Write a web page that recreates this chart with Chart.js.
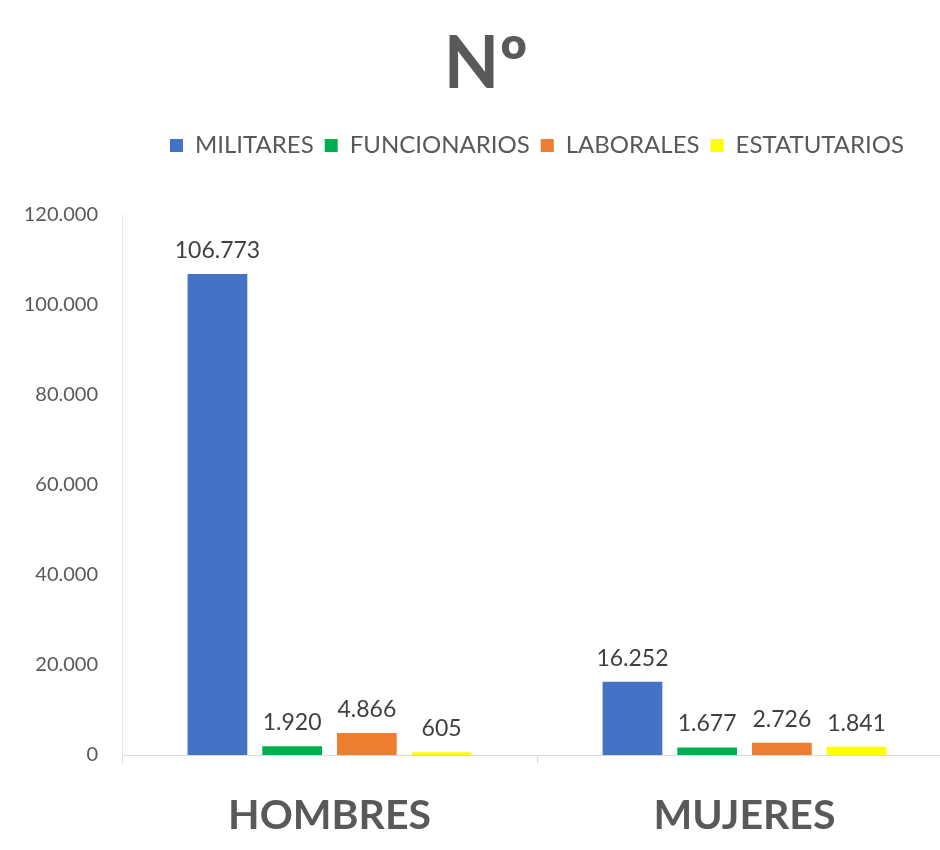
<!DOCTYPE html>
<html>
<head>
<meta charset="utf-8">
<script src="https://cdn.jsdelivr.net/npm/chart.js@4"></script>
<style>
  html, body { margin: 0; padding: 0; background: #fff; }
  /* the source picture is cropped on the right, so the canvas runs a bit past the window */
  #wrap { width: 940px; height: 850px; overflow: hidden; position: relative; }
  #inner { width: 952px; height: 850px; }
</style>
</head>
<body>
<div id="wrap"><div id="inner"><canvas id="chart"></canvas></div></div>
<script>
// categories and series
const categories = ["HOMBRES", "MUJERES"];
const militares = [106773, 16252];
const funcionarios = [1920, 1677];
const laborales = [4866, 2726];
const estatutarios = [605, 1841];
const yTicks = [0, 20000, 40000, 60000, 80000, 100000, 120000];

// 1920 -> "1.920"
function fmt(n) {
  return String(n).replace(/\B(?=(\d{3})+(?!\d))/g, ".");
}

// draws the value above every bar
const barLabels = {
  id: "barLabels",
  afterDatasetsDraw(chart) {
    const ctx = chart.ctx;
    ctx.save();
    ctx.font = "23px Lato";
    ctx.fillStyle = "#404040";
    ctx.textAlign = "center";
    ctx.textBaseline = "bottom";
    chart.data.datasets.forEach((ds, i) => {
      chart.getDatasetMeta(i).data.forEach((bar, j) => {
        ctx.fillText(fmt(ds.data[j]), bar.x, bar.y - 12);
      });
    });
    ctx.restore();
  },
};

// more room under the legend
const legendGap = {
  id: "legendGap",
  beforeInit(chart) {
    const fit = chart.legend.fit;
    chart.legend.fit = function () {
      fit.bind(chart.legend)();
      this.height += 47;
    };
  },
};

new Chart(document.getElementById("chart"), {
  type: "bar",
  data: {
    labels: categories,
    datasets: [
      { label: "MILITARES", data: militares, backgroundColor: "#4472C4" },
      { label: "FUNCIONARIOS", data: funcionarios, backgroundColor: "#00B050" },
      { label: "LABORALES", data: laborales, backgroundColor: "#ED7D31" },
      { label: "ESTATUTARIOS", data: estatutarios, backgroundColor: "#FFFF00" },
    ],
  },
  options: {
    responsive: true,
    maintainAspectRatio: false,
    animation: false,
    categoryPercentage: 0.72,
    barPercentage: 0.8,
    layout: { padding: { left: 20, right: 0, top: 0, bottom: 0 } },
    plugins: {
      title: {
        display: true,
        text: "Nº",
        color: "#595959",
        font: { family: "Lato", size: 72, weight: "bold" },
        padding: { top: 22, bottom: 14 },
      },
      legend: {
        fullSize: false,
        labels: {
          color: "#595959",
          font: { family: "Lato", size: 24 },
          boxWidth: 13,
          boxHeight: 13,
          padding: 11,
        },
      },
      tooltip: { enabled: false },
    },
    scales: {
      x: {
        afterFit: (axis) => {
          axis.height = 95;
        },
        grid: {
          display: true,
          drawOnChartArea: false,
          drawTicks: true,
          tickLength: 8,
          color: "#d9d9d9",
        },
        border: { color: "#d9d9d9" },
        ticks: {
          color: "#595959",
          font: { family: "Lato", size: 41, weight: "bold" },
          padding: 28,
        },
      },
      y: {
        min: 0,
        max: 120000,
        afterBuildTicks: (axis) => {
          axis.ticks = yTicks.map((v) => ({ value: v }));
        },
        afterFit: (axis) => {
          axis.width = 102;
        },
        grid: { display: false },
        border: { color: "#e6eef5" },
        ticks: {
          color: "#595959",
          font: { family: "Lato", size: 20 },
          padding: 16,
          callback: (v) => fmt(v),
        },
      },
    },
  },
  plugins: [barLabels, legendGap],
});
</script>
</body>
</html>
